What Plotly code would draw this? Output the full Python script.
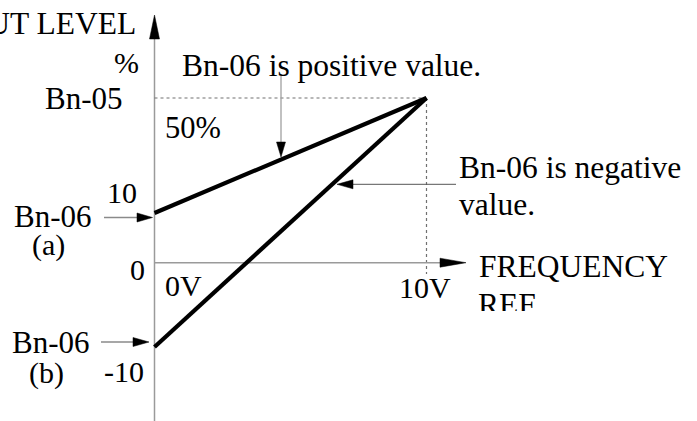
import plotly.graph_objects as go

W, H = 697, 421
FAMILY = "Liberation Serif, Times New Roman, serif"


def font(size=30):
    return dict(family=FAMILY, size=size, color="black")


# Frequency reference input (V) against output level (%)
freq_ref_v = [0, 10]
level_bias_pos = [10, 50]    # Bn-06 positive: bias +10 %, gain point Bn-05 = 50 %
level_bias_neg = [-10, 50]   # Bn-06 negative: bias -10 %, gain point Bn-05 = 50 %
gain_level = 50

# Tick-style labels of the diagram
y_labels = ["10", "0", "-10"]
x_labels = ["0V", "10V"]


def axis_range(v0, p0, v1, p1, length):
    """Axis range whose values v0, v1 land on pixel positions p0, p1."""
    scale = (p1 - p0) / (v1 - v0)
    return [v0 + (0 - p0) / scale, v0 + (length - p0) / scale]


# The diagram is schematic: each bias case has its own vertical scale.
x_rng = axis_range(0, 154.5, 10, 426.5, W)
y_pos_rng = axis_range(10, H - 213, 50, H - 98, H)
y_neg_rng = axis_range(-10, H - 347, 50, H - 98, H)

fig = go.Figure()
fig.add_trace(go.Scatter(x=freq_ref_v, y=level_bias_pos, mode="lines",
                         line=dict(color="black", width=4.2),
                         xaxis="x", yaxis="y", hoverinfo="skip"))
fig.add_trace(go.Scatter(x=freq_ref_v, y=level_bias_neg, mode="lines",
                         line=dict(color="black", width=4.2),
                         xaxis="x", yaxis="y2", hoverinfo="skip"))
# Second line of the x-axis title, cut off at the bottom edge of its box
fig.add_trace(go.Scatter(x=[478], y=[307], mode="text", text=["REF"],
                         textposition="middle right", textfont=font(31.5),
                         cliponaxis=True, xaxis="x4", yaxis="y4", hoverinfo="skip"))

hidden = dict(visible=False, showgrid=False, zeroline=False, fixedrange=True)
fig.update_layout(
    width=W, height=H,
    margin=dict(l=0, r=0, t=0, b=0),
    paper_bgcolor="white", plot_bgcolor="rgba(0,0,0,0)",
    showlegend=False,
    xaxis=dict(range=x_rng, domain=[0, 1], **hidden),
    yaxis=dict(range=y_pos_rng, domain=[0, 1], **hidden),
    yaxis2=dict(range=y_neg_rng, overlaying="y", **hidden),
    xaxis3=dict(range=[0, W], overlaying="x", **hidden),
    yaxis3=dict(range=[H, 0], overlaying="y", **hidden),
    xaxis4=dict(range=[0, W], domain=[0, 1], anchor="y4", **hidden),
    yaxis4=dict(range=[311, 0], domain=[1 - 311 / H, 1], anchor="x4", **hidden),
)

shapes = []
AX = "#9a9a9a"


def seg(x0, y0, x1, y1, color, width=1.3, dash="solid", layer="below"):
    shapes.append(dict(type="line", xref="x3", yref="y3", x0=x0, y0=y0, x1=x1, y1=y1,
                       line=dict(color=color, width=width, dash=dash), layer=layer))


def head(tx, ty, bx, by, hw):
    """Filled arrowhead with tip (tx, ty) and base centre (bx, by)."""
    dx, dy = tx - bx, ty - by
    n = (dx * dx + dy * dy) ** 0.5
    px, py = -dy / n * hw, dx / n * hw
    path = (f"M {tx},{ty} L {bx + px},{by + py} L {bx - px},{by - py} Z")
    shapes.append(dict(type="path", xref="x3", yref="y3", path=path,
                       fillcolor="black", line=dict(color="black", width=0.5), layer="above"))


# Axes with arrowheads
seg(154.5, 38, 154.5, H, AX, 1.5)
head(154.5, 15, 154.5, 39, 5)
seg(154.5, 262.7, 441, 262.7, AX, 1.5)
head(466, 262.7, 440, 262.7, 4.5)

# Dotted guides at the gain point (10 V, Bn-05)
shapes.append(dict(type="line", xref="x", yref="y", x0=0, x1=freq_ref_v[1],
                   y0=gain_level, y1=gain_level,
                   line=dict(color="#707070", width=1.2, dash="dot"), layer="below"))
shapes.append(dict(type="line", xref="x", yref="y3", x0=freq_ref_v[1], x1=freq_ref_v[1],
                   y0=98, y1=274,
                   line=dict(color="#707070", width=1.2, dash="dot"), layer="below"))

# Callout arrows
seg(281, 74, 281, 143, "#a0a0a0", 1.3, layer="above")
head(281, 157, 281, 142, 4.5)
seg(353, 184.3, 456, 184.3, "#555555", 1.0, layer="above")
head(337, 184.3, 353, 184.3, 4.5)
seg(104, 217.5, 138, 217.5, "#8a8a8a", 1.3, layer="above")
head(152.5, 217.5, 137, 217.5, 4.5)
seg(101, 342, 134, 342, "#8a8a8a", 1.3, layer="above")
head(149, 342, 133, 342, 4.5)

fig.update_layout(shapes=shapes)


def label(text, x, y, xanchor="center", size=30):
    fig.add_annotation(text=text, x=x, y=y, xref="x3", yref="y3",
                       xanchor=xanchor, yanchor="middle", showarrow=False,
                       font=font(size), borderpad=0)


label("OUTPUT LEVEL", 137, 23, "right", 31.5)
label("%", 126, 62)
label("Bn-05", 84, 98, size=31)
label(f"{gain_level}%", 193, 128, size=30.5)
label("Bn-06 is positive value.", 181, 65, "left", 31.5)
label(y_labels[0], 122, 192)
label("Bn-06", 53, 216, size=31)
label("(a)", 48, 245)
label(y_labels[1], 137, 269)
label(x_labels[0], 183, 285)
label("Bn-06", 51, 342, size=31)
label("(b)", 46, 373)
label(y_labels[2], 124, 371)
label("Bn-06 is negative", 458, 167, "left", 31.5)
label("value.", 458, 204, "left", 31.5)
label("FREQUENCY", 478, 266, "left", 31.5)
label(x_labels[1], 425, 287)

fig.write_html("out.html")
